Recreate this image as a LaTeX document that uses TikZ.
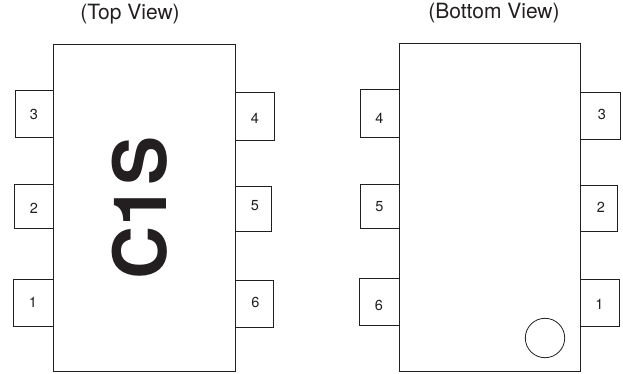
\documentclass[tikz,border=0pt]{standalone}
\usepackage{fontspec}
\setmainfont{TeX Gyre Heros}
\definecolor{ink}{HTML}{231F20}
\tikzset{
  outline/.style={draw=ink,line width=0.9pt,fill=white,inner sep=0pt,outer sep=0pt},
  pinnum/.style={text=ink,inner sep=0pt,font=\fontsize{14.5}{16}\selectfont},
  viewtitle/.style={text=ink,inner sep=0pt,font=\fontsize{21}{24}\selectfont},
  marking/.style={text=ink,inner sep=0pt,rotate=90,font=\fontsize{73.5}{80}\selectfont\bfseries}
}
\newcommand{\pinbox}[5]{% name, cx, cy, w, h
  \node[outline,minimum width=#4pt,minimum height=#5pt] (#1) at (#2,#3) {};
}
\begin{document}
\begin{tikzpicture}[x=1pt,y=-1pt]
\useasboundingbox (0,0) rectangle (623,374);
% left package
\pinbox{La}{33.5}{302.5}{40}{47}
\pinbox{Lb}{34}{206.4}{39}{44.7}
\pinbox{Lc}{34.25}{113.75}{38.5}{47.5}
\pinbox{Ld}{254.75}{116.25}{39.5}{47.5}
\pinbox{Le}{253.25}{208.85}{36.5}{45.7}
\pinbox{Lf}{254.25}{303.5}{38.5}{47}
\node[outline,minimum width=181.5pt,minimum height=327.5pt,fill=none] (Lbody) at (144.4,207.75) {};
\node[pinnum] (Ln1) at (33,302) {1};
\node[pinnum] (Ln2) at (34,208) {2};
\node[pinnum] (Ln3) at (34,114) {3};
\node[pinnum] (Ln4) at (255,118) {4};
\node[pinnum] (Ln5) at (255,206) {5};
\node[pinnum] (Ln6) at (255.5,302) {6};
\node[marking] (mark) at (139.7,208.3) {C1S};
\node[viewtitle] (Ltitle) at (130,14.5) {(Top View)};
% right package
\pinbox{Ra}{599.75}{302.75}{38.5}{46.5}
\pinbox{Rb}{599}{208}{37}{46}
\pinbox{Rc}{600.25}{115.75}{39.5}{47.5}
\pinbox{Rd}{379.75}{113.35}{38.5}{47.3}
\pinbox{Re}{379.5}{206.15}{39}{44.3}
\pinbox{Rf}{379}{302.1}{40}{46.8}
\node[outline,minimum width=181.5pt,minimum height=327.3pt,fill=none] (Rbody) at (489.75,207.35) {};
\node[pinnum] (Rn1) at (599.5,304) {1};
\node[pinnum] (Rn2) at (601,207) {2};
\node[pinnum] (Rn3) at (602,114) {3};
\node[pinnum] (Rn4) at (379.5,118) {4};
\node[pinnum] (Rn5) at (379.5,207) {5};
\node[pinnum] (Rn6) at (379,305) {6};
\node[outline,circle,fill=none,line width=0.8pt,minimum size=39.4pt] (dot) at (545,338) {};
\node[viewtitle] (Rtitle) at (494,13.5) {(Bottom View)};
\end{tikzpicture}
\end{document}
